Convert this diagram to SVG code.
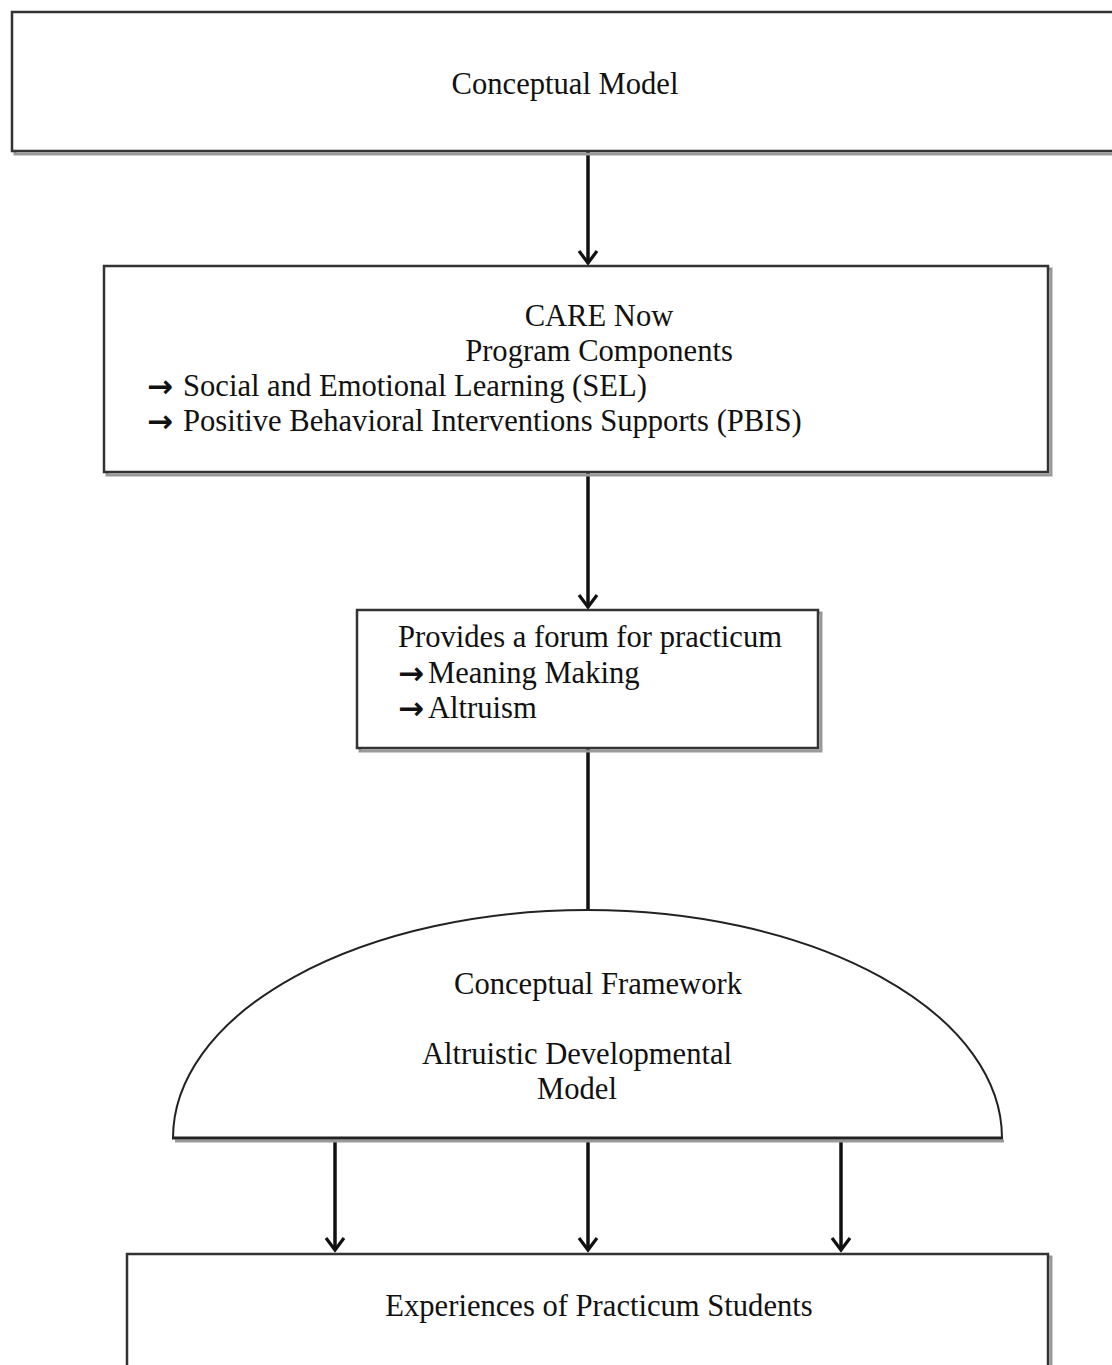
<svg xmlns="http://www.w3.org/2000/svg" width="1112" height="1365" viewBox="0 0 1112 1365">
<style>
.box{fill:#fff;stroke:#333;stroke-width:2.5}
.sh{fill:none;stroke:#999;stroke-width:3}
.t{font-family:"Liberation Serif","Times New Roman",serif;font-size:30.6px;fill:#111}
.c{text-anchor:middle}
.ar{font-family:"DejaVu Sans",sans-serif;font-size:31px;font-weight:bold}
.con{stroke:#111;stroke-width:3.5;fill:none}
.hd{stroke:#111;stroke-width:3.2;fill:none}
</style>
<rect width="1112" height="1365" fill="#fff"/>
<g id="connectors">
<line class="con" x1="588" y1="152" x2="588" y2="263"/>
<line class="con" x1="588" y1="473" x2="588" y2="607"/>
<line class="con" x1="588" y1="749" x2="588" y2="911"/>
<line class="con" x1="335" y1="1140" x2="335" y2="1250"/>
<line class="con" x1="588" y1="1140" x2="588" y2="1250"/>
<line class="con" x1="841" y1="1140" x2="841" y2="1250"/>
<polyline class="hd" points="579,251 588,263 597,251"/>
<polyline class="hd" points="579,595 588,607 597,595"/>
<polyline class="hd" points="326,1238 335,1250 344,1238"/>
<polyline class="hd" points="579,1238 588,1250 597,1238"/>
<polyline class="hd" points="832,1238 841,1250 850,1238"/>
</g>
<g id="conceptual-model">
<rect class="sh" x="15" y="15" width="1110" height="139"/>
<rect class="box" x="12" y="12" width="1110" height="139"/>
<text class="t c" x="565" y="94">Conceptual Model</text>
</g>
<g id="care-now">
<rect class="sh" x="107" y="269" width="944" height="206"/>
<rect class="box" x="104" y="266" width="944" height="206"/>
<text class="t c" x="599" y="326">CARE Now</text>
<text class="t c" x="599" y="361">Program Components</text>
<text class="t" x="147" y="397"><tspan class="ar">→</tspan></text>
<text class="t" x="183" y="396">Social and Emotional Learning (SEL)</text>
<text class="t" x="147" y="432"><tspan class="ar">→</tspan></text>
<text class="t" x="183" y="431">Positive Behavioral Interventions Supports (PBIS)</text>
</g>
<g id="forum">
<rect class="sh" x="360" y="613" width="461" height="138"/>
<rect class="box" x="357" y="610" width="461" height="138"/>
<text class="t" x="398" y="647">Provides a forum for practicum</text>
<text class="t" x="398" y="684"><tspan class="ar">→</tspan></text>
<text class="t" x="428" y="683">Meaning Making</text>
<text class="t" x="398" y="719"><tspan class="ar">→</tspan></text>
<text class="t" x="428" y="718">Altruism</text>
</g>
<g id="framework">
<path d="M173,1138 A414.5,228 0 0 1 1002,1138 Z" fill="#fff" stroke="#222" stroke-width="2"/>
<line x1="175" y1="1141" x2="1004" y2="1141" stroke="#999" stroke-width="3"/>
<line x1="172" y1="1138" x2="1003" y2="1138" stroke="#222" stroke-width="3"/>
<text class="t c" x="598" y="994">Conceptual Framework</text>
<text class="t c" x="577" y="1064">Altruistic Developmental</text>
<text class="t c" x="577" y="1099">Model</text>
</g>
<g id="experiences">
<rect class="sh" x="130" y="1257" width="921" height="130"/>
<rect class="box" x="127" y="1254" width="921" height="130"/>
<text class="t c" x="599" y="1316">Experiences of Practicum Students</text>
</g>
</svg>
